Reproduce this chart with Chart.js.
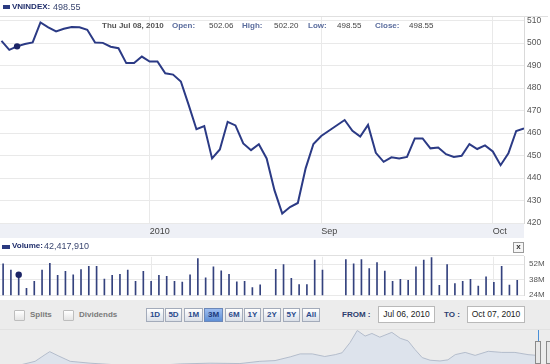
<!DOCTYPE html>
<html><head><meta charset="utf-8">
<script src="https://cdn.jsdelivr.net/npm/chart.js@4.4.1/dist/chart.umd.min.js"></script>
<style>
html,body{margin:0;padding:0;}
body{width:550px;height:364px;position:relative;overflow:hidden;background:#fff;font-family:"Liberation Sans",Arial,sans-serif;}
.a{position:absolute;white-space:nowrap;}
.t{height:12px;line-height:12px;}
canvas{position:absolute;left:0;}
.lbl{font-weight:bold;font-size:8px;color:#5b6d9e;}
.val{font-size:8px;color:#444;}
.btn{position:absolute;top:308px;height:14px;line-height:12px;border:1px solid #a3abba;background:linear-gradient(#ffffff,#dbe0e8);font-weight:bold;font-size:8px;color:#2b4b8c;text-align:center;box-sizing:border-box;}
.btn.sel{background:linear-gradient(#9dbdf0,#5f8fd6);color:#1c3a7c;border-color:#6b87b8;}
.chk{position:absolute;top:310px;width:11px;height:11px;border:1px solid #bdbdbd;background:linear-gradient(#ffffff,#e4e4e4);box-sizing:border-box;border-radius:1px;}
.inp{position:absolute;top:306px;height:17px;line-height:15px;border:1px solid #b9b9b9;background:#fff;font-size:8.5px;color:#222;text-align:center;box-sizing:border-box;}
</style></head><body>

<div class="a" style="left:0;top:223px;width:524px;height:15px;background:#eef0f6;"></div>
<div class="a" style="left:0;top:300px;width:550px;height:64px;background:#ececec;"></div>
<div class="a" style="left:0;top:329px;width:550px;height:1px;background:#e2e2e2;"></div>

<canvas id="price" width="550" height="230" style="top:8px"></canvas>
<canvas id="volume" width="550" height="58" style="top:247px"></canvas>
<canvas id="nav" width="538" height="35" style="top:329px"></canvas>

<div class="a" style="left:0;top:16px;width:548px;height:1px;background:#e0e0e0;"></div>
<div class="a" style="left:0;top:255px;width:524px;height:1px;background:#e0e0e0;"></div>

<div class="a" style="left:3px;top:5px;width:7px;height:4px;background:#2a3a80;"></div>
<div class="a t" style="left:12px;top:1px;font-weight:bold;font-size:8px;color:#1f2d6b;">VNINDEX:</div>
<div class="a t" style="left:53px;top:1px;font-size:9px;color:#3a4670;">498.55</div>

<div class="a t" style="left:102px;top:19.5px;font-weight:bold;font-size:8px;color:#555;">Thu Jul 08, 2010</div>
<div class="a t lbl" style="left:172px;top:19.5px;">Open:</div>
<div class="a t val" style="left:209px;top:19.5px;">502.06</div>
<div class="a t lbl" style="left:242px;top:19.5px;">High:</div>
<div class="a t val" style="left:274px;top:19.5px;">502.20</div>
<div class="a t lbl" style="left:308px;top:19.5px;">Low:</div>
<div class="a t val" style="left:337px;top:19.5px;">498.55</div>
<div class="a t lbl" style="left:375px;top:19.5px;">Close:</div>
<div class="a t val" style="left:409px;top:19.5px;">498.55</div>

<div class="a" style="left:2px;top:244.5px;width:8px;height:4px;background:#2a3a80;"></div>
<div class="a t" style="left:12px;top:240.3px;font-weight:bold;font-size:8px;color:#1f2d6b;">Volume:</div>
<div class="a t" style="left:44px;top:240.3px;font-size:9px;color:#3a4670;">42,417,910</div>
<div class="a" style="left:513px;top:242px;width:11px;height:11px;box-sizing:border-box;border:1px solid #9a9a9a;background:#f6f6f6;font-size:8px;font-weight:bold;line-height:8px;text-align:center;color:#333;">x</div>

<div class="chk" style="left:14px;"></div>
<div class="a t" style="left:30px;top:309px;font-weight:bold;font-size:8px;color:#7a7a7a;">Splits</div>
<div class="chk" style="left:63px;"></div>
<div class="a t" style="left:79px;top:309px;font-weight:bold;font-size:8px;color:#7a7a7a;">Dividends</div>

<div class="btn" style="left:146px;width:18px;">1D</div>
<div class="btn" style="left:165px;width:17px;">5D</div>
<div class="btn" style="left:184px;width:19px;">1M</div>
<div class="btn sel" style="left:204px;width:19px;">3M</div>
<div class="btn" style="left:225px;width:18px;">6M</div>
<div class="btn" style="left:244px;width:17px;">1Y</div>
<div class="btn" style="left:263px;width:18px;">2Y</div>
<div class="btn" style="left:283px;width:17px;">5Y</div>
<div class="btn" style="left:302px;width:18px;">All</div>

<div class="a t" style="left:342px;top:309px;font-weight:bold;font-size:8px;color:#2b3d6e;">FROM :</div>
<div class="inp" style="left:378px;width:57px;">Jul 06, 2010</div>
<div class="a t" style="left:444px;top:309px;font-weight:bold;font-size:8px;color:#2b3d6e;">TO :</div>
<div class="inp" style="left:467px;width:58px;">Oct 07, 2010</div>

<div class="a" style="left:538px;top:330px;width:1px;height:34px;background:#4a90d8;"></div>
<div class="a" style="left:535px;top:341px;width:6px;height:23px;box-sizing:border-box;border:1px solid #8a8a8a;background:#e8e8e8;"></div>
<div class="a" style="left:546px;top:341px;width:6px;height:23px;box-sizing:border-box;border:1px solid #8a8a8a;background:#e8e8e8;"></div>

<script>
// ---------- data ----------
const dates = [
 "Jul 06","Jul 07","Jul 08","Jul 09","Jul 12","Jul 13","Jul 14","Jul 15","Jul 16",
 "Jul 19","Jul 20","Jul 21","Jul 22","Jul 23","Jul 26","Jul 27","Jul 28","Jul 29","Jul 30",
 "Aug 02","Aug 03","Aug 04","Aug 05","Aug 06","Aug 09","Aug 10","Aug 11","Aug 12","Aug 13",
 "Aug 16","Aug 17","Aug 18","Aug 19","Aug 20","Aug 23","Aug 24","Aug 25","Aug 26","Aug 27",
 "Aug 30","Aug 31","Sep 01","Sep 02","Sep 03","Sep 06","Sep 07","Sep 08","Sep 09","Sep 10",
 "Sep 13","Sep 14","Sep 15","Sep 16","Sep 17","Sep 20","Sep 21","Sep 22","Sep 23","Sep 24",
 "Sep 27","Sep 28","Sep 29","Sep 30","Oct 01","Oct 04","Oct 05","Oct 06","Oct 07"
];
const closeValues = [
 501.0,497.0,498.55,499.6,500.3,509.2,507.0,505.2,506.4,
 507.1,507.0,505.9,500.3,500.1,498.4,497.7,491.1,491.1,494.0,
 491.8,491.8,486.6,486.0,482.9,472.5,461.7,463.1,448.7,452.7,
 465.0,463.4,455.4,452.4,455.0,448.7,434.6,424.2,427.1,428.9,
 444.3,455.1,458.7,null,null,465.8,461.0,458.4,463.6,451.2,
 447.2,449.2,448.7,449.4,457.6,457.6,453.2,453.6,450.6,449.4,
 449.9,455.1,452.9,454.5,451.8,445.7,451.0,460.9,462.1
];
const volumeMillions = [
 52.3,46.6,42.42,30.1,36.4,46.6,52.8,41.9,45.4,
 42.4,47.1,50.1,50.1,38.6,41.9,42.7,46.6,36.4,45.4,
 36.4,41.9,41.1,36.4,35.9,42.4,57.0,39.7,49.5,46.0,
 42.7,36.1,36.4,30.9,33.4,22.0,47.4,51.5,39.2,33.6,
 33.6,55.6,46.6,null,null,56.1,52.3,56.1,47.9,53.4,
 45.7,36.4,38.3,37.5,49.5,55.6,57.8,32.8,51.5,34.5,
 36.4,38.3,32.2,40.5,35.5,50.1,33.1,37.5,22.0
];
const selectedIndex = 2;
const xTickIndex = [19, 41, 63];
const xTickLabels = ["2010", "Sep", "Oct"];
const priceTicks = [420, 430, 440, 450, 460, 470, 480, 490, 500, 510];
const volumeTicks = [24, 38, 52];
const navYears = [2000.50,2000.88,2001.17,2001.36,2001.45,2001.61,2001.84,2002.22,2002.79,2003.36,
 2003.94,2004.51,2005.08,2005.46,2005.75,2006.04,2006.23,2006.46,2006.70,2006.90,2007.03,2007.18,
 2007.32,2007.47,2007.60,2007.75,2007.98,2008.14,2008.29,2008.42,2008.56,2008.71,2008.90,2009.05,
 2009.19,2009.38,2009.57,2009.82,2010.08,2010.33,2010.58,2010.75];
const navValues = [100,200,300,480,560,450,300,250,200,180,
 230,250,240,300,320,420,500,500,430,480,530,800,
 1130,980,1050,950,1080,920,850,620,400,330,310,340,
 480,540,460,570,540,540,480,460];

// ---------- charts ----------
Chart.defaults.font.family = '"Liberation Sans", Arial, sans-serif';
const NAVY = '#2b3a85';
const GRID = '#e9e9e9';

new Chart(document.getElementById('price'), {
  type: 'line',
  data: { datasets: [{
    data: closeValues.map((v, i) => ({x: i, y: v})),
    borderColor: NAVY, borderWidth: 2, tension: 0, spanGaps: true,
    pointRadius: c => c.dataIndex === selectedIndex ? 3.2 : 0,
    pointBackgroundColor: '#1b2466', pointBorderWidth: 0
  }]},
  options: {
    responsive: false, animation: false, events: [],
    layout: {padding: 0},
    plugins: {legend: {display: false}, tooltip: {enabled: false}},
    scales: {
      x: {type: 'linear', min: -0.19, max: 67.0, offset: false,
        afterBuildTicks: s => { s.ticks = xTickIndex.map(v => ({value: v})); },
        afterFit: s => { s.height = 15; },
        grid: {color: GRID, drawTicks: false, offset: false}, border: {display: false},
        ticks: {align: 'start', padding: 3, font: {size: 9}, color: '#444', autoSkip: false, maxRotation: 0,
          callback: (v, i) => xTickLabels[i]}},
      y: {position: 'right', min: 420, max: 512,
        afterBuildTicks: s => { s.ticks = priceTicks.map(v => ({value: v})); },
        afterFit: s => { s.width = 26; },
        grid: {color: GRID, drawTicks: false}, border: {display: true, color: '#d9d9d9'},
        ticks: {padding: 3, font: {size: 8.5}, color: '#555'}}
    }
  }
});

new Chart(document.getElementById('volume'), {
  type: 'bar',
  data: { datasets: [
    { type: 'line', data: volumeMillions.map((v, i) => ({x: i, y: v})), showLine: false,
      pointRadius: c => c.dataIndex === selectedIndex ? 3.2 : 0,
      pointBackgroundColor: '#1b2466', pointBorderWidth: 0 },
    { data: volumeMillions.map((v, i) => ({x: i, y: v})), backgroundColor: '#34427e',
      barThickness: 1, clip: 0 }
  ]},
  options: {
    responsive: false, animation: false, events: [],
    layout: {padding: 0},
    plugins: {legend: {display: false}, tooltip: {enabled: false}},
    scales: {
      x: {type: 'linear', min: -0.40, max: 66.87, offset: false,
        afterBuildTicks: s => { s.ticks = xTickIndex.map(v => ({value: v})); },
        afterFit: s => { s.height = 0; },
        grid: {color: GRID, drawTicks: false, offset: false}, border: {display: false},
        ticks: {display: false}},
      y: {position: 'right', min: 24, max: 58.6,
        afterBuildTicks: s => { s.ticks = volumeTicks.map(v => ({value: v})); },
        afterFit: s => { s.width = 26; },
        grid: {color: GRID, drawTicks: false}, border: {display: true, color: '#d9d9d9'},
        ticks: {padding: 5, font: {size: 8}, color: '#555', callback: v => v + 'M'}}
    }
  }
});

new Chart(document.getElementById('nav'), {
  type: 'line',
  data: { datasets: [{
    data: navValues.map((v, i) => ({x: navYears[i], y: v})),
    borderColor: '#b3bccb', borderWidth: 1, backgroundColor: '#dde3ec',
    fill: 'start', pointRadius: 0, tension: 0
  }]},
  options: {
    responsive: false, animation: false, events: [],
    layout: {padding: 0},
    plugins: {legend: {display: false}, tooltip: {enabled: false}},
    scales: {
      x: {type: 'linear', min: 2000.5, max: 2010.77, display: false},
      y: {min: 228, max: 1170, display: false}
    }
  }
});
</script>
</body></html>
